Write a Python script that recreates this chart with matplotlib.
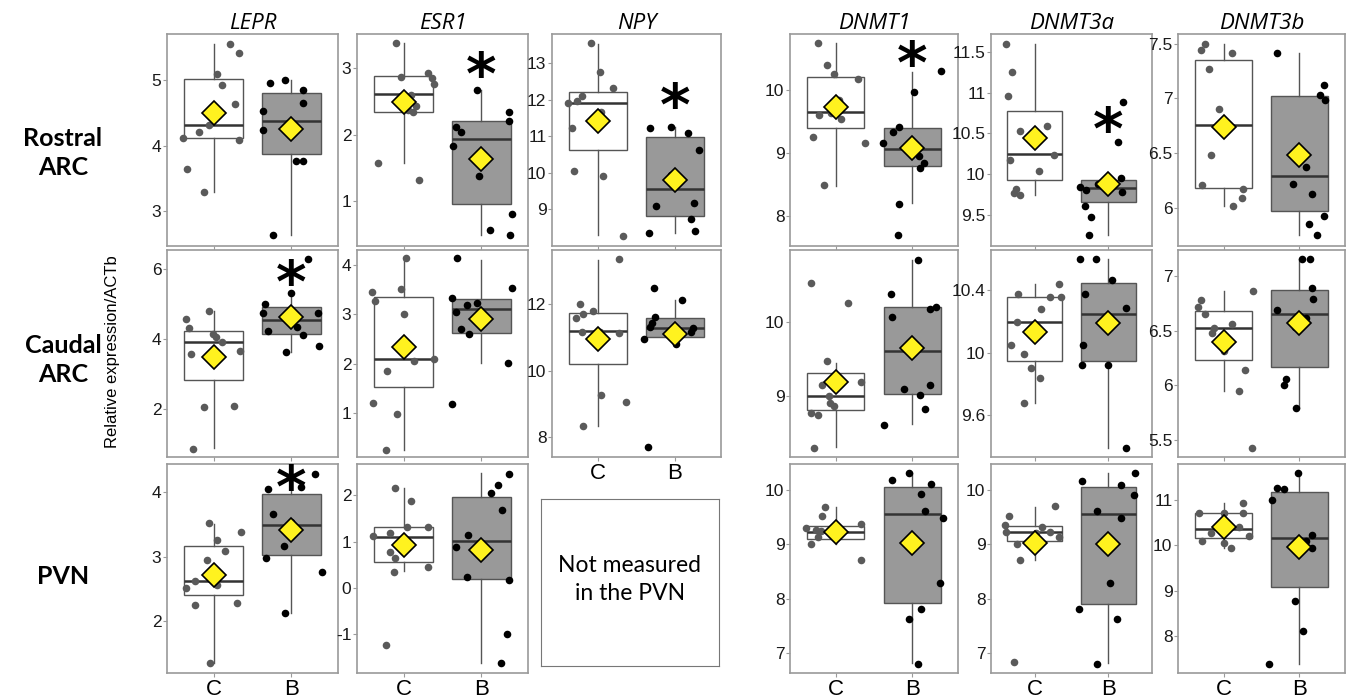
import matplotlib
matplotlib.use("Agg")
import matplotlib.pyplot as plt

groups = ["C", "B"]
genes = ["LEPR", "ESR1", "NPY", "DNMT1", "DNMT3a", "DNMT3b"]
regions = ["Rostral\nARC", "Caudal\nARC", "PVN"]

# box summaries: (whisker low, q1, median, q3, whisker high, mean)
# ---------------- Rostral ARC ----------------
rostral_lepr_c = [5.55, 5.41, 5.09, 4.93, 4.63, 4.12, 4.21, 4.31, 4.09, 3.65, 3.30]
rostral_lepr_c_dx = [0.21, 0.33, 0.04, 0.11, 0.28, -0.39, -0.19, -0.06, 0.33, -0.34, -0.12]
rostral_lepr_b = [4.95, 5.00, 4.84, 4.65, 4.52, 4.23, 4.16, 3.76, 3.76, 2.63]
rostral_lepr_b_dx = [-0.28, -0.08, 0.15, 0.15, -0.36, -0.36, -0.02, 0.06, 0.15, -0.24]
rostral_lepr_box = [(3.30, 4.11, 4.32, 5.01, 5.55, 4.49), (2.63, 3.87, 4.37, 4.80, 5.00, 4.26)]

rostral_esr1_c = [3.38, 2.87, 2.93, 2.86, 2.77, 2.60, 2.43, 2.37, 2.34, 1.57, 1.32]
rostral_esr1_c_dx = [-0.10, -0.03, 0.31, 0.36, 0.39, 0.09, 0.16, 0.05, 0.12, -0.33, 0.20]
rostral_esr1_b = [2.67, 2.34, 2.21, 2.12, 2.04, 1.83, 1.38, 0.56, 0.49, 0.80]
rostral_esr1_b_dx = [-0.06, 0.36, 0.36, -0.32, -0.26, -0.36, -0.03, 0.11, 0.37, 0.40]
rostral_esr1_box = [(1.57, 2.34, 2.61, 2.88, 3.38, 2.49), (0.49, 0.95, 1.94, 2.20, 2.67, 1.64)]

rostral_npy_c = [13.55, 12.76, 12.31, 12.10, 11.90, 11.98, 11.66, 11.24, 10.06, 9.91, 8.28]
rostral_npy_c_dx = [-0.09, 0.02, 0.20, -0.21, -0.39, -0.28, 0.04, -0.34, -0.31, 0.07, 0.33]
rostral_npy_b = [11.24, 11.26, 11.08, 10.63, 9.95, 9.10, 9.18, 8.74, 8.36, 8.41]
rostral_npy_b_dx = [-0.32, -0.05, 0.17, 0.31, -0.05, -0.25, 0.25, 0.21, -0.34, 0.26]
rostral_npy_box = [(8.31, 10.63, 11.90, 12.21, 13.52, 11.43), (8.36, 8.82, 9.56, 10.99, 11.26, 9.80)]

rostral_dnmt1_c = [10.76, 10.41, 10.27, 10.19, 9.84, 9.76, 9.61, 9.64, 9.55, 9.26, 9.17, 8.49]
rostral_dnmt1_c_dx = [-0.23, -0.11, -0.03, 0.29, 0.04, 0.0, -0.22, -0.06, 0.07, -0.30, 0.38, -0.15]
rostral_dnmt1_b = [10.31, 9.98, 9.41, 9.33, 9.16, 8.96, 8.84, 8.76, 8.19, 7.70]
rostral_dnmt1_b_dx = [0.38, 0.02, -0.17, -0.25, -0.38, 0.09, 0.16, 0.10, -0.17, -0.18]
rostral_dnmt1_box = [(8.48, 9.40, 9.66, 10.22, 10.76, 9.74), (8.20, 8.79, 9.07, 9.40, 10.30, 9.08)]

rostral_dnmt3a_c = [11.60, 11.26, 10.96, 10.53, 10.59, 10.24, 10.18, 10.04, 9.82, 9.74, 9.77]
rostral_dnmt3a_c_dx = [-0.40, -0.31, -0.37, -0.20, 0.16, 0.26, -0.34, 0.05, -0.26, -0.20, -0.28]
rostral_dnmt3a_b = [10.89, 10.40, 9.96, 9.78, 9.88, 9.81, 9.84, 9.61, 9.47, 9.26]
rostral_dnmt3a_b_dx = [0.20, 0.14, 0.17, 0.19, -0.14, -0.30, -0.39, -0.31, -0.23, -0.26]
rostral_dnmt3a_box = [(9.74, 9.93, 10.25, 10.78, 11.60, 10.45), (9.26, 9.66, 9.83, 9.93, 9.93, 9.88)]

rostral_dnmt3b_c = [7.50, 7.44, 7.42, 7.27, 6.90, 6.76, 6.48, 6.21, 6.17, 6.09, 6.02]
rostral_dnmt3b_c_dx = [-0.24, -0.30, 0.11, -0.19, -0.06, 0.07, -0.17, -0.29, 0.25, 0.24, 0.12]
rostral_dnmt3b_b = [7.42, 7.12, 7.03, 6.99, 6.37, 6.22, 6.13, 5.92, 5.85, 5.75]
rostral_dnmt3b_b_dx = [-0.30, 0.32, 0.27, 0.34, 0.08, -0.09, 0.16, 0.32, 0.12, 0.23]
rostral_dnmt3b_box = [(6.02, 6.18, 6.76, 7.35, 7.50, 6.74), (5.75, 5.97, 6.29, 7.02, 7.42, 6.48)]

# ---------------- Caudal ARC ----------------
caudal_lepr_c = [4.81, 4.57, 4.33, 4.15, 4.08, 3.93, 3.67, 3.58, 2.07, 2.10, 0.87]
caudal_lepr_c_dx = [-0.06, -0.36, -0.32, -0.01, 0.03, 0.11, 0.34, -0.29, -0.13, 0.26, -0.27]
caudal_lepr_b = [6.30, 5.33, 5.00, 4.76, 4.74, 4.25, 4.34, 4.13, 3.81, 3.65]
caudal_lepr_b_dx = [0.22, 0.0, -0.34, -0.37, 0.34, -0.30, 0.07, 0.15, 0.35, -0.07]
caudal_lepr_box = [(0.90, 2.84, 3.92, 4.23, 4.81, 3.49), (3.65, 4.15, 4.55, 4.93, 5.33, 4.63)]

caudal_esr1_c = [4.13, 3.45, 3.51, 3.27, 3.00, 2.35, 2.06, 2.09, 1.86, 1.22, 0.99, 0.27]
caudal_esr1_c_dx = [0.03, -0.41, -0.04, -0.37, 0.0, -0.02, 0.13, 0.39, -0.22, -0.40, -0.08, -0.23]
caudal_esr1_b = [4.13, 3.53, 3.34, 3.18, 3.22, 3.04, 2.70, 2.60, 2.02, 1.20]
caudal_esr1_b_dx = [-0.31, 0.40, -0.38, -0.19, -0.05, -0.32, -0.26, -0.16, 0.34, -0.38]
caudal_esr1_box = [(0.27, 1.53, 2.10, 3.36, 4.13, 2.35), (2.02, 2.63, 3.10, 3.31, 4.10, 2.90)]

caudal_npy_c = [13.35, 12.01, 11.71, 11.80, 11.58, 11.17, 11.17, 11.13, 9.28, 9.07, 8.35]
caudal_npy_c_dx = [0.27, -0.24, -0.20, -0.06, -0.29, -0.21, 0.03, 0.27, 0.04, 0.36, -0.20]
caudal_npy_b = [12.50, 12.13, 11.63, 11.43, 11.31, 11.30, 11.18, 10.96, 10.81, 7.70]
caudal_npy_b_dx = [-0.27, 0.09, -0.26, -0.30, -0.32, 0.23, 0.21, -0.40, 0.02, -0.35]
caudal_npy_box = [(8.35, 10.21, 11.20, 11.75, 13.33, 10.96), (11.03, 11.03, 11.28, 11.58, 12.13, 11.10)]

caudal_dnmt1_c = [10.54, 10.27, 9.47, 9.15, 9.18, 9.00, 8.90, 8.86, 8.76, 8.73, 8.28]
caudal_dnmt1_c_dx = [-0.33, 0.16, -0.12, -0.18, 0.33, -0.09, -0.08, -0.03, -0.32, -0.23, -0.28]
caudal_dnmt1_b = [10.86, 10.39, 10.21, 10.19, 10.08, 9.09, 9.15, 9.01, 8.82, 8.60]
caudal_dnmt1_b_dx = [0.07, -0.28, 0.31, 0.23, -0.26, -0.11, 0.23, 0.10, 0.17, -0.37]
caudal_dnmt1_box = [(8.30, 8.80, 9.00, 9.31, 9.45, 9.19), (8.61, 9.02, 9.61, 10.21, 10.85, 9.65)]

caudal_dnmt3a_c = [10.44, 10.36, 10.36, 10.38, 10.28, 10.20, 10.05, 9.99, 9.90, 9.84, 9.68]
caudal_dnmt3a_c_dx = [0.33, 0.21, 0.36, -0.23, 0.08, -0.25, -0.33, -0.15, -0.06, 0.07, -0.15]
caudal_dnmt3a_b = [10.60, 10.60, 10.47, 10.38, 10.29, 10.21, 10.05, 9.92, 9.92, 9.39]
caudal_dnmt3a_b_dx = [-0.39, -0.17, 0.06, -0.31, 0.25, -0.03, -0.34, -0.35, 0.0, 0.24]
caudal_dnmt3a_box = [(9.68, 9.95, 10.20, 10.36, 10.44, 10.13), (9.39, 9.95, 10.25, 10.45, 10.60, 10.19)]

caudal_dnmt3b_c = [6.86, 6.78, 6.72, 6.65, 6.56, 6.52, 6.48, 6.31, 6.14, 5.95, 5.42]
caudal_dnmt3b_c_dx = [0.39, -0.30, -0.33, -0.25, 0.11, -0.13, -0.15, 0.0, 0.28, 0.21, 0.38]
caudal_dnmt3b_b = [7.16, 7.16, 6.89, 6.79, 6.69, 6.62, 6.53, 6.06, 6.00, 5.79]
caudal_dnmt3b_b_dx = [0.04, 0.14, 0.16, 0.18, -0.29, 0.08, -0.06, -0.18, -0.21, -0.04]
caudal_dnmt3b_box = [(5.95, 6.23, 6.52, 6.68, 6.86, 6.40), (5.79, 6.17, 6.65, 6.87, 7.16, 6.57)]

# ---------------- PVN (NPY not measured) ----------------
pvn_lepr_c = [3.52, 3.38, 3.26, 3.09, 2.95, 2.62, 2.56, 2.52, 2.25, 2.28, 1.35]
pvn_lepr_c_dx = [-0.06, 0.35, 0.04, 0.15, -0.08, -0.24, 0.04, -0.35, -0.24, 0.30, -0.05]
pvn_lepr_b = [4.28, 4.05, 4.07, 3.66, 3.54, 3.44, 3.16, 2.98, 2.76, 2.12]
pvn_lepr_b_dx = [0.30, -0.30, 0.12, -0.23, 0.0, 0.06, -0.09, -0.32, 0.39, -0.08]
pvn_lepr_box = [(1.35, 2.40, 2.62, 3.16, 3.51, 2.71), (2.12, 3.02, 3.48, 3.96, 4.27, 3.41)]

pvn_esr1_c = [2.17, 1.87, 1.13, 1.19, 1.31, 1.32, 0.77, 0.64, 0.34, 0.45, -1.24]
pvn_esr1_c_dx = [-0.11, 0.09, -0.39, -0.18, 0.04, 0.31, -0.18, -0.11, -0.12, 0.31, -0.23]
pvn_esr1_b = [2.47, 2.23, 2.06, 1.68, 1.15, 0.88, 0.23, 0.18, -0.99, -1.63]
pvn_esr1_b_dx = [0.36, 0.21, 0.13, 0.26, -0.17, -0.33, -0.18, 0.35, 0.33, 0.25]
pvn_esr1_box = [(0.36, 0.55, 1.11, 1.32, 2.17, 0.92), (-1.63, 0.19, 1.02, 1.96, 2.48, 0.82)]

pvn_dnmt1_c = [9.69, 9.53, 9.31, 9.26, 9.24, 9.13, 9.00, 9.13, 9.37, 8.71]
pvn_dnmt1_c_dx = [-0.14, -0.18, -0.39, -0.26, -0.20, -0.23, -0.33, 0.01, 0.33, 0.33]
pvn_dnmt1_b = [10.32, 10.18, 10.11, 9.93, 9.62, 9.48, 8.28, 7.80, 7.62, 6.80]
pvn_dnmt1_b_dx = [-0.04, -0.26, 0.25, 0.11, 0.17, 0.40, 0.36, 0.11, -0.04, 0.07]
pvn_dnmt1_box = [(9.00, 9.10, 9.23, 9.34, 9.68, 9.23), (6.82, 7.92, 9.56, 10.05, 10.31, 9.02)]

pvn_dnmt3a_c = [9.52, 9.35, 9.23, 9.00, 8.72, 9.21, 9.32, 9.23, 9.70, 9.13, 6.83]
pvn_dnmt3a_c_dx = [-0.36, -0.41, -0.39, -0.25, -0.21, 0.02, 0.10, 0.21, 0.27, 0.33, -0.29]
pvn_dnmt3a_b = [10.17, 10.32, 10.09, 9.91, 9.62, 9.49, 8.29, 7.80, 7.62, 6.80]
pvn_dnmt3a_b_dx = [-0.36, 0.37, 0.18, 0.36, -0.15, 0.18, 0.02, -0.40, 0.12, -0.15]
pvn_dnmt3a_box = [(8.72, 9.07, 9.23, 9.34, 9.68, 9.02), (6.82, 7.91, 9.56, 10.05, 10.31, 9.00)]

pvn_dnmt3b_c = [10.93, 10.72, 10.72, 10.71, 10.28, 10.40, 10.21, 10.09, 10.06, 9.95, 10.41]
pvn_dnmt3b_c_dx = [0.25, -0.32, 0.01, 0.25, -0.17, 0.20, 0.33, -0.29, 0.01, 0.10, 0.0]
pvn_dnmt3b_b = [11.60, 11.28, 11.24, 11.01, 10.24, 10.10, 9.95, 8.77, 8.10, 7.39]
pvn_dnmt3b_b_dx = [-0.02, -0.29, -0.21, -0.36, 0.16, 0.08, 0.17, -0.06, 0.05, -0.40]
pvn_dnmt3b_box = [(9.95, 10.17, 10.37, 10.71, 10.93, 10.41), (7.39, 9.08, 10.17, 11.17, 11.59, 9.97)]

# significance asterisks above the B group: (row, col, y)
stars = [(0, 1, 3.05), (0, 2, 12.09), (0, 3, 10.57), (0, 4, 10.66), (1, 0, 5.89), (2, 0, 4.21)]

panels = {
    (0, 0): (rostral_lepr_c, rostral_lepr_c_dx, rostral_lepr_b, rostral_lepr_b_dx, rostral_lepr_box),
    (0, 1): (rostral_esr1_c, rostral_esr1_c_dx, rostral_esr1_b, rostral_esr1_b_dx, rostral_esr1_box),
    (0, 2): (rostral_npy_c, rostral_npy_c_dx, rostral_npy_b, rostral_npy_b_dx, rostral_npy_box),
    (0, 3): (rostral_dnmt1_c, rostral_dnmt1_c_dx, rostral_dnmt1_b, rostral_dnmt1_b_dx, rostral_dnmt1_box),
    (0, 4): (rostral_dnmt3a_c, rostral_dnmt3a_c_dx, rostral_dnmt3a_b, rostral_dnmt3a_b_dx, rostral_dnmt3a_box),
    (0, 5): (rostral_dnmt3b_c, rostral_dnmt3b_c_dx, rostral_dnmt3b_b, rostral_dnmt3b_b_dx, rostral_dnmt3b_box),
    (1, 0): (caudal_lepr_c, caudal_lepr_c_dx, caudal_lepr_b, caudal_lepr_b_dx, caudal_lepr_box),
    (1, 1): (caudal_esr1_c, caudal_esr1_c_dx, caudal_esr1_b, caudal_esr1_b_dx, caudal_esr1_box),
    (1, 2): (caudal_npy_c, caudal_npy_c_dx, caudal_npy_b, caudal_npy_b_dx, caudal_npy_box),
    (1, 3): (caudal_dnmt1_c, caudal_dnmt1_c_dx, caudal_dnmt1_b, caudal_dnmt1_b_dx, caudal_dnmt1_box),
    (1, 4): (caudal_dnmt3a_c, caudal_dnmt3a_c_dx, caudal_dnmt3a_b, caudal_dnmt3a_b_dx, caudal_dnmt3a_box),
    (1, 5): (caudal_dnmt3b_c, caudal_dnmt3b_c_dx, caudal_dnmt3b_b, caudal_dnmt3b_b_dx, caudal_dnmt3b_box),
    (2, 0): (pvn_lepr_c, pvn_lepr_c_dx, pvn_lepr_b, pvn_lepr_b_dx, pvn_lepr_box),
    (2, 1): (pvn_esr1_c, pvn_esr1_c_dx, pvn_esr1_b, pvn_esr1_b_dx, pvn_esr1_box),
    (2, 3): (pvn_dnmt1_c, pvn_dnmt1_c_dx, pvn_dnmt1_b, pvn_dnmt1_b_dx, pvn_dnmt1_box),
    (2, 4): (pvn_dnmt3a_c, pvn_dnmt3a_c_dx, pvn_dnmt3a_b, pvn_dnmt3a_b_dx, pvn_dnmt3a_box),
    (2, 5): (pvn_dnmt3b_c, pvn_dnmt3b_c_dx, pvn_dnmt3b_b, pvn_dnmt3b_b_dx, pvn_dnmt3b_box),
}

# axis ranges and ticks per panel
ylims = {
    (0, 0): (2.47, 5.70), (0, 1): (0.32, 3.52), (0, 2): (8.0, 13.8),
    (0, 3): (7.52, 10.90), (0, 4): (9.12, 11.72), (0, 5): (5.65, 7.59),
    (1, 0): (0.64, 6.55), (1, 1): (0.12, 4.30), (1, 2): (7.41, 13.63),
    (1, 3): (8.16, 10.99), (1, 4): (9.33, 10.66), (1, 5): (5.34, 7.24),
    (2, 0): (1.20, 4.43), (2, 1): (-1.84, 2.68),
    (2, 3): (6.63, 10.48), (2, 4): (6.63, 10.48), (2, 5): (7.18, 11.80),
}
yticks = {
    (0, 0): [3, 4, 5], (0, 1): [1, 2, 3], (0, 2): [9, 10, 11, 12, 13],
    (0, 3): [8, 9, 10], (0, 4): [9.5, 10, 10.5, 11, 11.5], (0, 5): [6, 6.5, 7, 7.5],
    (1, 0): [2, 4, 6], (1, 1): [1, 2, 3, 4], (1, 2): [8, 10, 12],
    (1, 3): [9, 10], (1, 4): [9.6, 10, 10.4], (1, 5): [5.5, 6, 6.5, 7],
    (2, 0): [2, 3, 4], (2, 1): [-1, 0, 1, 2],
    (2, 3): [7, 8, 9, 10], (2, 4): [7, 8, 9, 10], (2, 5): [8, 9, 10, 11],
}

W, H = 1348, 698
col_px = [(167, 338), (357, 528), (552, 721), (790, 958), (991, 1152), (1178, 1345)]
row_px = [(34, 246), (250, 457), (464, 673)]

TICK_FONT = "Liberation Sans"
LABEL_FONT = "Lato"
frame_col = "#9a9a9a"
line_col = "#555555"

fig = plt.figure(figsize=(W / 100, H / 100), dpi=100)


def px_axes(x0, x1, y0, y1):
    return fig.add_axes([x0 / W, 1 - y1 / H, (x1 - x0) / W, (y1 - y0) / H])


axes = {}
for (r, c), (cv, cdx, bv, bdx, box) in panels.items():
    ax = px_axes(*col_px[c], *row_px[r])
    axes[(r, c)] = ax
    stats = []
    for g, s in zip(groups, box):
        stats.append(dict(label=g, whislo=s[0], q1=s[1], med=s[2], q3=s[3],
                          whishi=s[4], mean=s[5], fliers=[]))
    bp = ax.bxp(stats, positions=[1, 2], widths=0.75, showfliers=False,
                showcaps=False, patch_artist=True,
                boxprops=dict(edgecolor=line_col, linewidth=1),
                whiskerprops=dict(color=line_col, linewidth=1),
                medianprops=dict(color="#333333", linewidth=1.8))
    bp["boxes"][0].set_facecolor("white")
    bp["boxes"][1].set_facecolor("#999999")
    for pos, vals, dx, col in [(1, cv, cdx, "#5a5a5a"), (2, bv, bdx, "black")]:
        ax.scatter([pos + d for d in dx], vals, s=30, color=col, zorder=4, linewidths=0)
    ax.plot([1, 2], [box[0][5], box[1][5]], linestyle="none", marker="D", ms=12,
            mfc="#FFF21F", mec="black", mew=1.2, zorder=5)

    ax.set_xlim(0.4, 2.6)
    ax.set_ylim(*ylims[(r, c)])
    ax.set_yticks(yticks[(r, c)])
    ax.set_yticklabels(["%g" % t for t in yticks[(r, c)]], fontsize=12.5,
                       family=TICK_FONT, color="#1a1a1a")
    ax.set_xticks([1, 2])
    if r == 2 or (r == 1 and c == 2):
        ax.set_xticklabels(groups, fontsize=16, family=TICK_FONT)
    else:
        ax.set_xticklabels([])
    ax.tick_params(length=3, width=0.8, color=frame_col, pad=1)
    for sp in ax.spines.values():
        sp.set_color(frame_col)
        sp.set_linewidth(1.2)
    if r == 0:
        ax.set_title(genes[c], fontsize=16, style="italic", family="Open Sans", pad=3)

for r, c, y in stars:
    axes[(r, c)].annotate("*", (2, y), xytext=(0, -12), textcoords="offset pixels",
                          fontsize=42, fontweight="bold", ha="center", va="center",
                          zorder=6)

# PVN panel for NPY was not measured
ax = px_axes(541, 719, 499, 666)
ax.set_xticks([])
ax.set_yticks([])
for sp in ax.spines.values():
    sp.set_color("#777777")
ax.text(0.5, 0.52, "Not measured\nin the PVN", ha="center", va="center",
        fontsize=16.5, family=LABEL_FONT, linespacing=1.4, transform=ax.transAxes)

for label, yc in zip(regions, [153, 360, 576]):
    fig.text(63 / W, 1 - yc / H, label, ha="center", va="center", fontsize=18,
             fontweight="bold", family=LABEL_FONT, linespacing=1.3)

fig.text(112 / W, 1 - 352 / H, "Relative expression/ACTb", rotation=90,
         ha="center", va="center", fontsize=12, family=TICK_FONT)

fig.savefig("out.png", dpi=100)
